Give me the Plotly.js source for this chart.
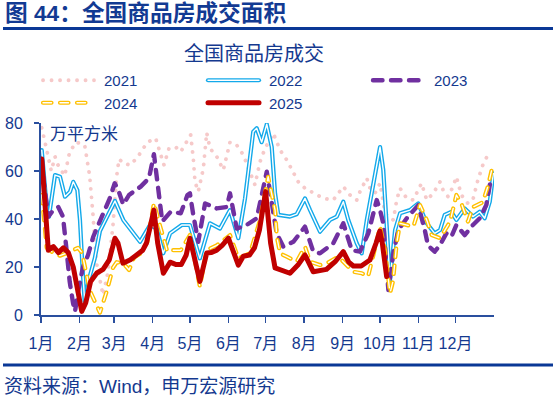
<!DOCTYPE html>
<html><head><meta charset="utf-8">
<script src="https://cdn.plot.ly/plotly-3.0.1.min.js"></script>
<style>html,body{margin:0;padding:0;background:#fff;}#chart{width:553px;height:397px;}</style>
</head><body><div id="chart"></div>
<script>
// ---- data (day of year, value in 万平方米) ----
const monthTicks = [0,31,59,90,120,151,181,212,243,273,304,334];
const monthLabels = ['1月','2月','3月','4月','5月','6月','7月','8月','9月','10月','11月','12月'];
const yTicks = [0,20,40,60,80];

const days2021 = [0.6,1.6,4.3,8.3,11.3,13.7,19.1,23.1,28.4,35.2,39.2,41.9,44.6,50,54,58,61,62.9,66.9,72.3,79,85.7,92.4,96.5,99.1,103.1,108.5,112.6,116.6,120.6,122.7,124.1,126.7,130.8,133.5,136.2,141.6,146.9,152.3,157.7,163,168.4,172.4,176.5,180.5,187.2,192.6,198,203.3,207.3,212.7,219.4,227.5,235.5,243.6,249,254.4,257,262.5,265,269.1,273.2,277.2,283.9,286.6,289.3,294.7,300,306.6,310.8,316.1,321.5,324,328,332,334.7,338.7,344,348,352,356,360,362.6];
const vals2021 = [78,76,69.5,60,66,62.5,58,68,72,70.8,58,41.7,22,8.3,18,37.5,58,65,63,62.5,66.7,72,73.6,66.7,62.5,69.4,70,68,71.5,75,65.3,55.5,51.4,61,76,69.4,66,60.4,72,70.8,66.7,59,54.2,63.9,69.4,75.7,68.75,64.6,59,55.5,52.8,50.7,48.6,47.9,53.5,50,47.9,51.4,57,53,50.7,54.9,42.4,39.6,47.9,52.8,48.6,47.9,54.9,47.9,50.7,55.5,52,49.3,53.5,57.6,50,46.5,48,56.2,62.5,66.7,67.4];

const days2022 = [0.6,2.4,4.6,6.4,11.3,15.3,19.3,23.4,26,29.3,31.4,33.4,35.2,38.7,43.3,47.5,51.5,59.6,66.3,74.4,79.8,87.8,93.2,98.5,104,113.4,120,128,136.2,144.2,152.3,159,164.4,171,173.8,177.8,181.9,185.9,188.6,191.2,200.6,206,212.7,216.8,224.8,232.9,238.3,243.6,247.6,254.4,258.4,262.5,269.1,273.2,275.8,278.6,281.2,285.3,289.3,297.3,304,310.8,317.2,321.5,325.3,330.6,334.7,341.4,348,353.5,357.5,361.6,364.5];
const vals2022 = [68.7,58,45,41,58.3,57.6,49.3,51.4,55.5,52,39.6,20,5.5,15,23.6,35,39,47.5,39.6,34,30.5,37.5,36,25.7,34,37.5,37.5,23.6,38.2,36,43.7,32,48.6,76.4,77.8,72,79.5,70,50.7,41.7,41,42,48.6,43.7,34.7,39.6,41,47.2,39.6,29.9,25.7,39.6,59,70,60.4,36.8,14.6,35.4,42.4,43.7,46.5,38.2,34,35.4,41.7,43,39.6,44.4,41,43,40.3,47.2,59];

const days2023 = [0.6,2.4,5.9,9.9,13.9,17.7,20.4,23.1,25.8,27.4,30,33.8,37.9,42.1,47.3,55.4,59.4,62.3,66.3,70.9,80.3,87,91,95,97.7,104.5,112.6,118,120,122.7,126.7,132.2,141.6,149.6,152.3,157.7,165.7,173.8,180.5,181.9,189.9,195.2,203.3,212.7,219.4,224.8,235.5,243.6,250.4,257,263.7,270.5,273.2,275.8,278.6,279.9,283.9,287.9,294.7,304,309.4,311.8,317.2,321.3,326.6,330.6,334.7,341.4,348,353.5,358.8,362.8];
const vals2023 = [65,55,41,43.7,45,41,28,14,5,1.5,10,20,25,32.6,38.9,48.6,54.9,52,46,50,53.5,57,67,51,39,43,42.4,50,50.7,41.7,30.5,46.5,44.4,45,50.7,36,37.5,40.3,58.3,59.7,34,28.5,30.5,36.8,26.4,25.7,29.9,38.2,27,26.4,34,47.9,43.7,38.2,18.75,10.4,25.7,35.4,40.3,45.8,35,29,26.4,29,34,32.6,37.5,33.3,37.5,40.3,45.8,57.6];

const days2024 = [0.6,4.6,9.7,15.3,21.8,29.8,33,39.5,47.5,53,58,61,66.3,71,75,79.8,85.7,91,96,101.8,105.8,112.6,120,128,133.5,141.6,152.3,159,168.4,176.5,183,188.6,190,192.6,198,206,212.7,216.8,224.8,230,239.6,251.6,258.4,263.5,267.5,273.2,277.2,281.2,283.6,286.6,289.3,294.7,300,305.4,310.8,314.8,321.5,329.6,334.7,338.7,344,348,356,360,363.4];
const vals2024 = [50,28,26,24.7,26,28,26,10,1,10,19.7,22,21.5,18.75,24,25.5,30.5,46.7,37,26.4,27,27,33.3,11.8,27,29,33.3,23.6,25.7,39.6,57.6,43.7,32.6,25.7,24.3,22.2,28.5,22.2,20.8,21.5,24.3,18,17.4,16,24.3,36.8,27,9,14,29.9,38.2,37.5,36.8,45.8,39.6,33.3,32,38.9,50,46.5,38.9,45,47,53.5,61];

const days2025 = [0.6,5.9,10,14,18,22,26,30,32.8,36,40,45,50,55,59.6,62,66,72,77,82,85,91,94,98.6,104,109,113,117,120,124,128,133.5,137,141.6,146,151,155,159,163,168,172,176,181,185,188.6,192.6,197,200.6,207,212.7,219.4,225,230,237,243.6,248,251.7,258,265,270,273,275,278.5];
const vals2025 = [65,27,28.5,26,28,26,20,8,1.5,5,14,17.5,19,23,32,30,21.6,23,25,27,30,43.7,30,17.4,22,21,21,25,32,22,14,25.8,26,27,29,32,26,20.8,24.5,25,28,35.4,51.4,30,19.6,19,18,17.4,20.8,25,18,18.5,19,22.2,26.4,22,20.4,20.4,22.9,30,35,30,16];

// ---- styling ----
const TXT = '#14398f';
const AX = '#2a4f9e';
const FONT = 'Liberation Sans, Arial, Noto Sans CJK SC, sans-serif';

const traces = [
  {x: days2021, y: vals2021, name: '2021', mode: 'lines', line: {color: '#f6c9c9', width: 3.8, dash: '0.1px,8.4px'}},
  {x: days2022, y: vals2022, name: '2022', mode: 'lines', legendgroup: 'g22', line: {color: '#13a9ea', width: 4.2}},
  {x: days2022, y: vals2022, name: '2022', mode: 'lines', legendgroup: 'g22', showlegend: false, line: {color: '#ffffff', width: 1.4}},
  {x: days2023, y: vals2023, name: '2023', mode: 'lines', line: {color: '#7030a0', width: 4.4, dash: '9.5px,8.5px'}},
  {x: days2024, y: vals2024, name: '2024', mode: 'lines', legendgroup: 'g24', line: {color: '#ffc000', width: 4.2, dash: '8.5px,8.5px'}},
  {x: days2024, y: vals2024, name: '2024', mode: 'lines', legendgroup: 'g24', showlegend: false, line: {color: '#ffffff', width: 1.4, dash: '8.5px,8.5px'}},
  {x: days2025, y: vals2025, name: '2025', mode: 'lines', line: {color: '#c00000', width: 5}}
];

const W = 453, H = 192, L = 41, T = 123;
const px = v => (v - L) / W;          // pixel x -> paper
const py = v => (T + H - v) / H;      // pixel y -> paper

const layout = {
  width: 553, height: 397,
  margin: {l: 41, r: 59, t: 123, b: 82},
  paper_bgcolor: '#fff', plot_bgcolor: '#fff',
  font: {family: FONT, color: TXT, size: 16},
  showlegend: true,
  title: {text: '全国商品房成交', x: 254/553, xref: 'container', xanchor: 'center',
          y: 1 - 54/397, yref: 'container', yanchor: 'middle',
          font: {size: 20, color: TXT, family: FONT}},
  xaxis: {range: [0, 365], tickvals: monthTicks, ticktext: monthLabels,
          showline: true, linecolor: AX, linewidth: 2, ticks: 'outside', ticklen: 6, tickwidth: 1.5, tickcolor: AX,
          showgrid: false, zeroline: false, tickfont: {size: 16, color: TXT}, ticklabelstandoff: 7, fixedrange: true},
  yaxis: {range: [0, 80], tickvals: yTicks,
          showline: true, linecolor: AX, linewidth: 2, ticks: 'outside', ticklen: 5, tickwidth: 1.5, tickcolor: AX,
          showgrid: false, zeroline: false, tickfont: {size: 16, color: TXT}, ticklabelstandoff: 8, fixedrange: true},
  legend: {orientation: 'h', x: px(36), xanchor: 'left', y: py(64), yanchor: 'top',
           entrywidth: 92, entrywidthmode: 'pixels', itemwidth: 58,
           font: {size: 15, color: TXT, family: FONT}, bgcolor: 'rgba(0,0,0,0)', traceorder: 'normal'},
  annotations: [
    {text: '<b>图 44：全国商品房成交面积</b>', xref: 'paper', yref: 'paper', x: px(3), y: py(13),
     xanchor: 'left', yanchor: 'middle', showarrow: false, font: {size: 22.7, color: '#123a93', family: FONT}},
    {text: '万平方米', xref: 'paper', yref: 'paper', x: px(48), y: py(134),
     xanchor: 'left', yanchor: 'middle', showarrow: false, font: {size: 17, color: TXT, family: FONT}},
    {text: '资料来源：Wind，申万宏源研究', xref: 'paper', yref: 'paper', x: px(2), y: py(386),
     xanchor: 'left', yanchor: 'middle', showarrow: false, font: {size: 19, color: TXT, family: FONT}}
  ],
  shapes: [
    {type: 'line', xref: 'paper', yref: 'paper', x0: px(3), x1: px(553), y0: py(28.5), y1: py(28.5), line: {color: '#0a3896', width: 3}},
    {type: 'line', xref: 'paper', yref: 'paper', x0: px(3), x1: px(553), y0: py(365), y1: py(365), line: {color: '#0a3896', width: 3}}
  ]
};

Plotly.newPlot('chart', traces, layout, {displayModeBar: false, staticPlot: true}).then(function(gd){
  // round caps/joins like the original (dots and rounded dashes)
  document.querySelectorAll('.scatterlayer .trace path.js-line').forEach(function(p){
    p.style.strokeLinecap = 'round';
    p.style.strokeLinejoin = 'round';
  });
  // lengthen legend line samples and add the white core for double lines
  document.querySelectorAll('.legend .traces').forEach(function(g){
    var t = g.querySelector('.legendtext');
    var name = t ? t.textContent : '';
    var p = g.querySelector('.legendlines path');
    if (!p) return;
    p.setAttribute('d', 'M7,0h51');
    p.style.strokeLinecap = 'round';
    if (name === '2022' || name === '2024') {
      var c = p.cloneNode(true);
      c.style.stroke = '#ffffff';
      c.style.strokeWidth = '1.4px';
      p.parentNode.appendChild(c);
    }
  });
});
</script></body></html>
